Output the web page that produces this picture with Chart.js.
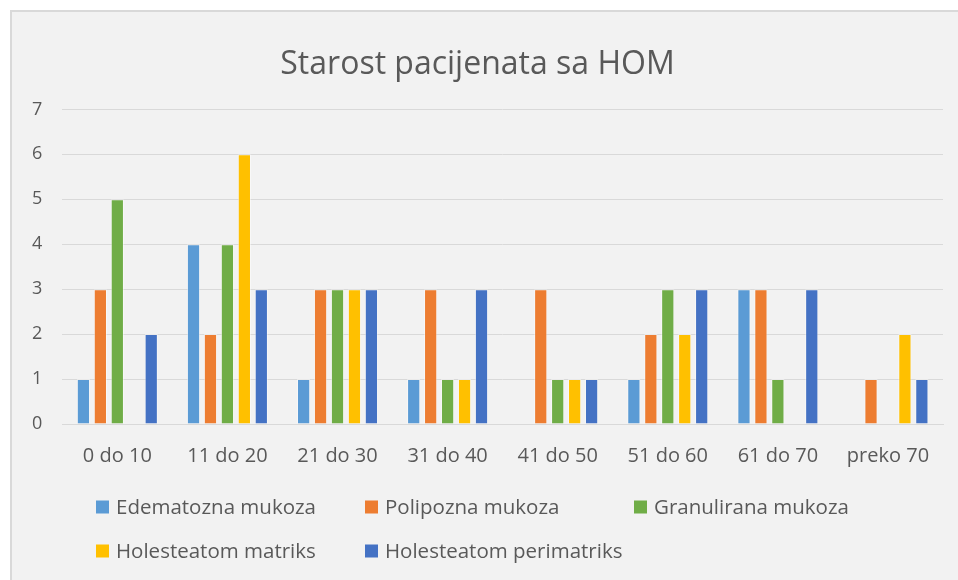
<!DOCTYPE html>
<html>
<head>
<meta charset="utf-8">
<script src="https://cdn.jsdelivr.net/npm/chart.js@4"></script>
<style>
    body { margin: 0; background: #ffffff; }
    #box {
        position: absolute; left: 10px; top: 10px;
        width: 960px; height: 580px;
        background: #f2f2f2; border: 2px solid #d9d9d9;
    }
    #wrap { position: absolute; left: 0; top: 0; width: 958px; height: 580px; }
</style>
</head>
<body>
<div id="box"></div>
<div id="wrap"><canvas id="myBarChart" width="958" height="580"></canvas></div>
<script>
// 데이터
const categories = ['0 do 10', '11 do 20', '21 do 30', '31 do 40', '41 do 50', '51 do 60', '61 do 70', 'preko 70'];
const edematozna = [1, 4, 1, 1, 0, 1, 3, 0];
const polipozna = [3, 2, 3, 3, 3, 2, 3, 1];
const granulirana = [5, 4, 3, 1, 1, 3, 1, 0];
const matriks = [0, 6, 3, 1, 1, 2, 0, 2];
const perimatriks = [2, 3, 3, 3, 1, 3, 3, 1];
const seriesNames = ['Edematozna mukoza', 'Polipozna mukoza', 'Granulirana mukoza', 'Holesteatom matriks', 'Holesteatom perimatriks'];
const seriesColors = ['#5b9bd5', '#ed7d31', '#70ad47', '#ffc000', '#4472c4'];

const FONT = "'Open Sans', 'Noto Sans', sans-serif";
const TEXT = '#595959';

$ready();

function $ready() {
    const values = [edematozna, polipozna, granulirana, matriks, perimatriks];
    const datasets = values.map((v, i) => ({
        label: seriesNames[i],
        data: v,
        backgroundColor: seriesColors[i],
        borderColor: 'rgba(255,255,255,0.45)',
        borderWidth: ctx => (ctx.raw ? 1 : 0),
        categoryPercentage: 0.77,
        barPercentage: 0.78
    }));

    // 범례 (고정 칸 배치)
    const gridLegend = {
        id: 'gridLegend',
        afterDraw(chart) {
            const c = chart.ctx;
            const cols = [96, 365, 634];
            const rows = [507, 551];
            c.save();
            c.font = '20.5px ' + FONT;
            c.textBaseline = 'middle';
            chart.data.datasets.forEach((ds, i) => {
                const x = cols[i % 3];
                const y = rows[Math.floor(i / 3)];
                c.fillStyle = ds.backgroundColor;
                c.fillRect(x, y - 6.5, 13, 13);
                c.fillStyle = TEXT;
                c.fillText(ds.label, x + 20, y + 1);
            });
            c.restore();
        }
    };

    const config = {
        type: 'bar',
        data: { labels: categories, datasets: datasets },
        options: {
            responsive: false,
            maintainAspectRatio: false,
            animation: false,
            layout: { padding: { left: 12, right: 15, top: 46, bottom: 100 } },
            plugins: {
                legend: { display: false },
                tooltip: { enabled: false },
                title: {
                    display: true,
                    text: 'Starost pacijenata sa HOM',
                    color: TEXT,
                    font: { family: FONT, size: 32, weight: 'normal' },
                    padding: { top: 0, bottom: 25 }
                }
            },
            scales: {
                x: {
                    grid: { display: false },
                    border: { color: '#d9d9d9' },
                    ticks: { color: TEXT, font: { family: FONT, size: 20 }, padding: 12 }
                },
                y: {
                    min: 0, max: 7,
                    grid: { color: '#d9d9d9', drawTicks: false },
                    border: { display: false },
                    ticks: { stepSize: 1, color: TEXT, font: { family: FONT, size: 18 }, padding: 20 }
                }
            }
        },
        plugins: [gridLegend]
    };

    new Chart(document.getElementById('myBarChart'), config);
}
</script>
</body>
</html>
